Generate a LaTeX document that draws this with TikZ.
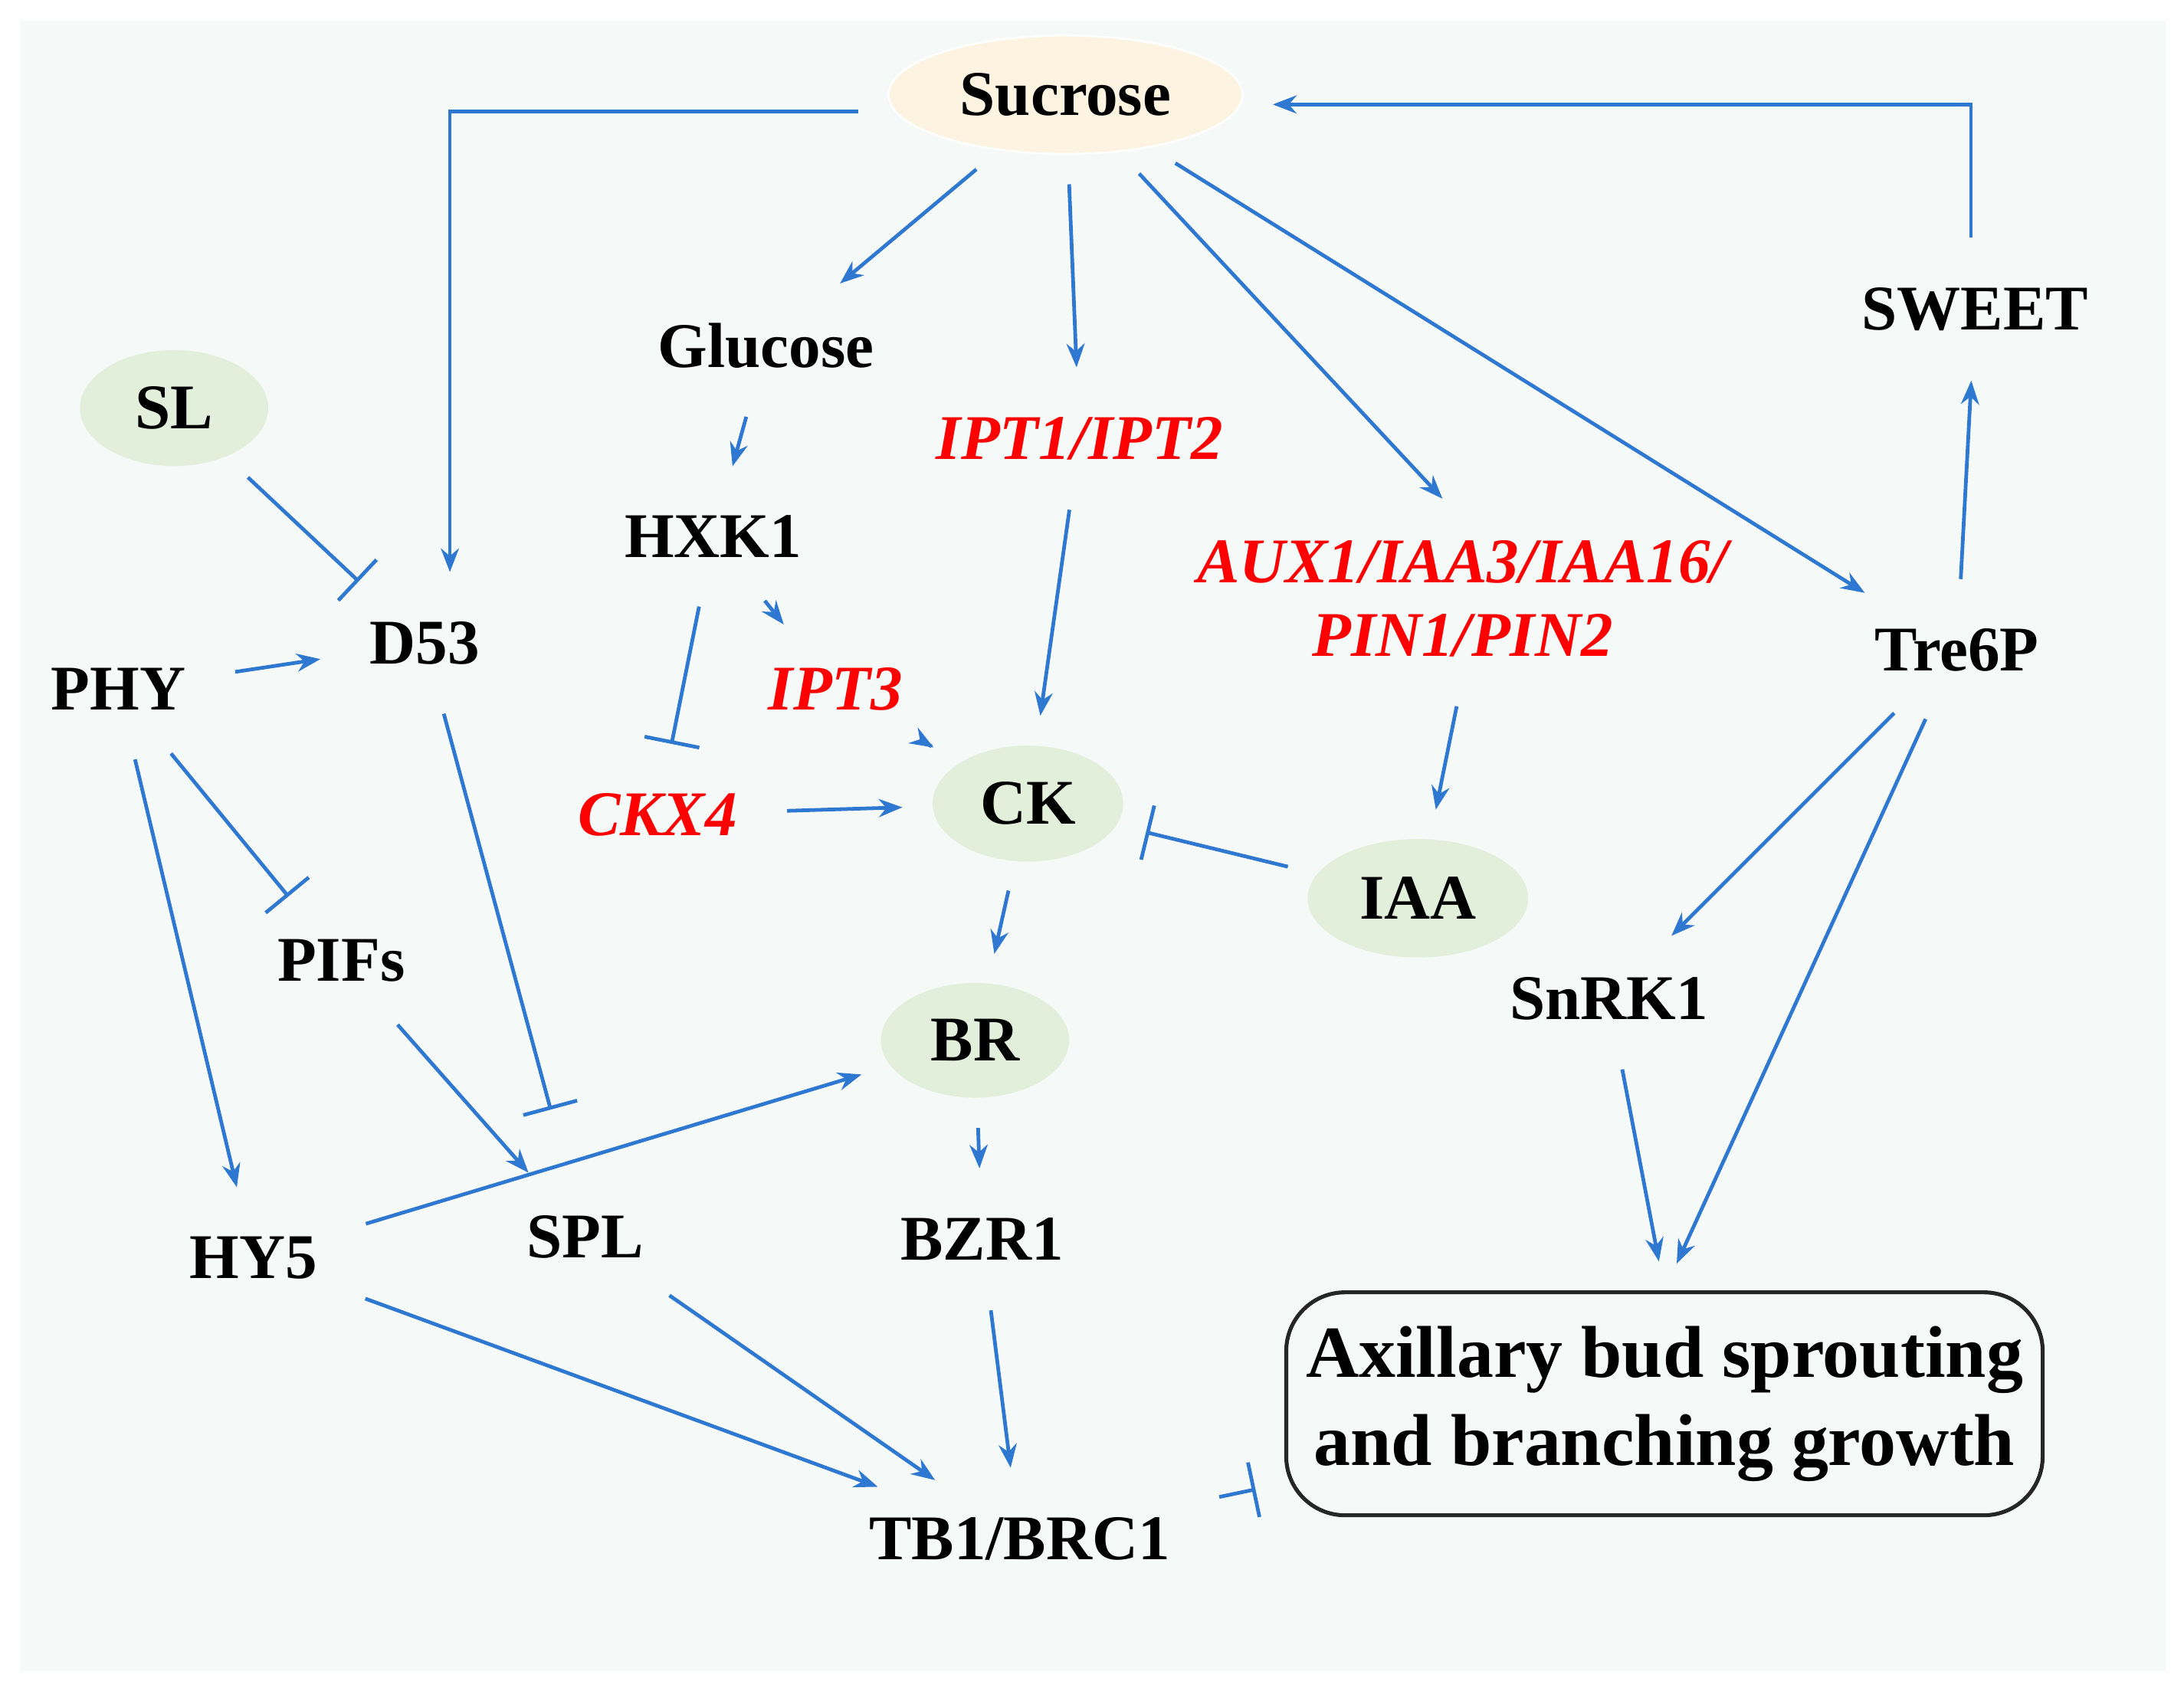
\documentclass[tikz,border=0pt]{standalone}
\usepackage{fontspec}
\setmainfont{Liberation Serif}
\usetikzlibrary{arrows.meta,shapes.geometric}
\definecolor{ln}{HTML}{2E78D2}
\definecolor{bg}{HTML}{F5F9F7}
\definecolor{grn}{HTML}{E2EFDA}
\definecolor{crm}{HTML}{FDF3E1}
\begin{document}
\begin{tikzpicture}[x=0.01cm,y=-0.01cm,
  t/.style={font=\fontsize{13}{15}\selectfont\bfseries,inner sep=4pt},
  r/.style={t,text=red,font=\fontsize{13}{15}\selectfont\bfseries\itshape},
  e/.style={t,ellipse,fill=grn,minimum width=1.35cm,minimum height=0.8cm},
  a/.style={draw=ln,line width=0.75pt,-{Stealth[length=0.17cm,width=0.13cm]},shorten >=6pt,shorten <=6pt},
  b/.style={draw=ln,line width=0.75pt,-{Bar[width=0.4cm]},shorten >=6pt,shorten <=6pt}]
\useasboundingbox (0,0) rectangle (1568,1214);
\fill[bg] (15,15) rectangle (1555,1200);
\node[t,ellipse,fill=crm,draw=white,minimum width=2cm,minimum height=0.85cm] (suc) at (765,68) {Sucrose};
\node[t] (glu) at (550,248) {Glucose};
\node[e] (sl) at (125,293) {SL};
\node[t] (hxk) at (512,385) {HXK1};
\node[r] (ipt12) at (775,315) {IPT1/IPT2};
\node[r,align=center] (aux) at (1050,430) {AUX1/IAA3/IAA16/\\PIN1/PIN2};
\node[t] (sweet) at (1418,222) {SWEET};
\node[t] (tre) at (1405,467) {Tre6P};
\node[t] (d53) at (305,462) {D53};
\node[t] (phy) at (85,495) {PHY};
\node[r] (ipt3) at (600,495) {IPT3};
\node[e] (ck) at (738,577) {CK};
\node[r] (ckx) at (472,585) {CKX4};
\node[e,minimum width=1.35cm,minimum height=0.85cm] (iaa) at (1018,645) {IAA};
\node[t] (pifs) at (245,690) {PIFs};
\node[t] (snrk) at (1155,717) {SnRK1};
\node[e] (br) at (700,747) {BR};
\node[t] (hy5) at (182,903) {HY5};
\node[t] (spl) at (420,888) {SPL};
\node[t] (bzr) at (705,890) {BZR1};
\node[t,draw=black!85,line width=0.8pt,rounded corners=12pt,align=center,minimum width=4.95cm,minimum height=1.6cm,font=\fontsize{15}{18}\selectfont\bfseries] (ax) at (1195,1008) {Axillary bud sprouting\\and branching growth};
\node[t] (tb1) at (732,1105) {TB1/BRC1};
\coordinate (c1) at (323,80);
\coordinate (c2) at (1415,75);
\draw[a] (suc.west|-c1) -- (c1) -- (d53.north-|c1);
\draw[a] (suc) -- (glu);
\draw[a] (suc) -- (ipt12);
\draw[a] (suc) -- (aux.north);
\draw[a] (suc) -- (tre);
\draw[a] (sweet.north-|c2) -- (c2) -- (suc.east|-c2);
\draw[a] (tre) -- (sweet);
\draw[b] (sl) -- (d53);
\draw[a] (phy) -- (d53);
\draw[a] (glu) -- (hxk);
\draw[a] (hxk) -- (ipt3);
\draw[b] (hxk) -- (ckx);
\draw[a] (ipt12) -- (ck);
\draw[a] (ipt3) -- (ck);
\draw[a] (ckx) -- (ck);
\draw[a] (aux.south) -- (iaa);
\draw[b] (iaa) -- (ck);
\draw[a] (ck) -- (br);
\draw[b,shorten >=18pt] (d53) -- (spl);
\draw[b] (phy) -- (pifs);
\draw[a] (phy) -- (hy5);
\draw[a] (pifs) -- (spl);
\draw[a] (hy5) -- (br);
\draw[a] (br) -- (bzr);
\draw[a] (hy5) -- (tb1);
\draw[a] (spl) -- (tb1);
\draw[a] (bzr) -- (tb1);
\draw[b] (tb1) -- (ax);
\draw[a] (tre) -- (snrk);
\draw[a] (tre) -- (ax.north);
\draw[a] (snrk) -- (ax.north);
\end{tikzpicture}
\end{document}
